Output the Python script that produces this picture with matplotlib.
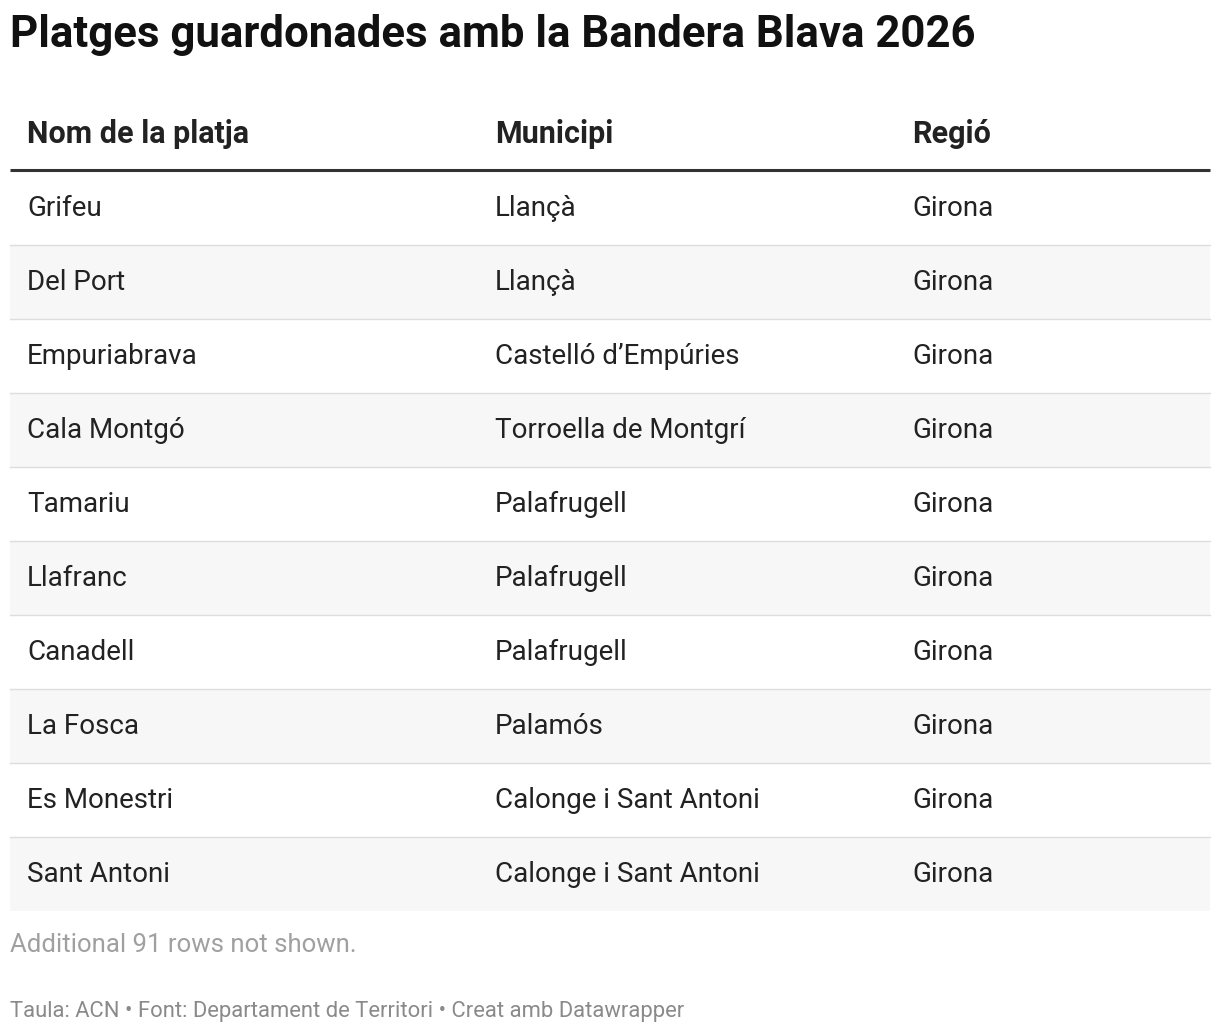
import matplotlib
matplotlib.use("Agg")
import matplotlib.pyplot as plt
from matplotlib.patches import Rectangle

plt.rcParams['font.family'] = ['Roboto', 'DejaVu Sans']

title = "Platges guardonades amb la Bandera Blava 2026"
headers = ["Nom de la platja", "Municipi", "Regió"]
platges = ["Grifeu", "Del Port", "Empuriabrava", "Cala Montgó", "Tamariu", "Llafranc",
           "Canadell", "La Fosca", "Es Monestri", "Sant Antoni"]
municipis = ["Llançà", "Llançà", "Castelló d’Empúries", "Torroella de Montgrí", "Palafrugell",
             "Palafrugell", "Palafrugell", "Palamós", "Calonge i Sant Antoni", "Calonge i Sant Antoni"]
regions = ["Girona"] * 10
note = "Additional 91 rows not shown."
source = "Taula: ACN • Font: Departament de Territori • Creat amb Datawrapper"

W, H = 1220, 1036
fig = plt.figure(figsize=(W / 100, H / 100), dpi=100)
ax = fig.add_axes([0, 0, 1, 1])
ax.set_xlim(0, W)
ax.set_ylim(H, 0)
ax.axis('off')

ax.text(10, 35, title, fontsize=31.5, fontweight='bold', color='#111111', va='center')
colx = [27, 495, 912]
for x, h in zip(colx, headers):
    ax.text(x, 134, h, fontsize=22, fontweight='bold', color='#222222', va='center')
ax.plot([10, 1210], [170, 170], color='#333333', lw=2.2, solid_capstyle='butt')

top, rh = 171, 74
for i, row in enumerate(zip(platges, municipis, regions)):
    y0 = top + i * rh
    if i % 2 == 1:
        ax.add_patch(Rectangle((10, y0), 1200, rh, color='#f7f7f7', lw=0))
    if i < len(platges) - 1:
        ax.plot([10, 1210], [y0 + rh, y0 + rh], color='#dddddd', lw=1)
    for x, t in zip(colx, row):
        ax.text(x, y0 + rh / 2, t, fontsize=20, color='#222222', va='center')

ax.text(10, 945, note, fontsize=18.5, color='#a0a0a0', va='center')
ax.text(10, 1012, source, fontsize=15.8, color='#8a8a8a', va='center')

fig.savefig("out.png", dpi=100, facecolor='white')
